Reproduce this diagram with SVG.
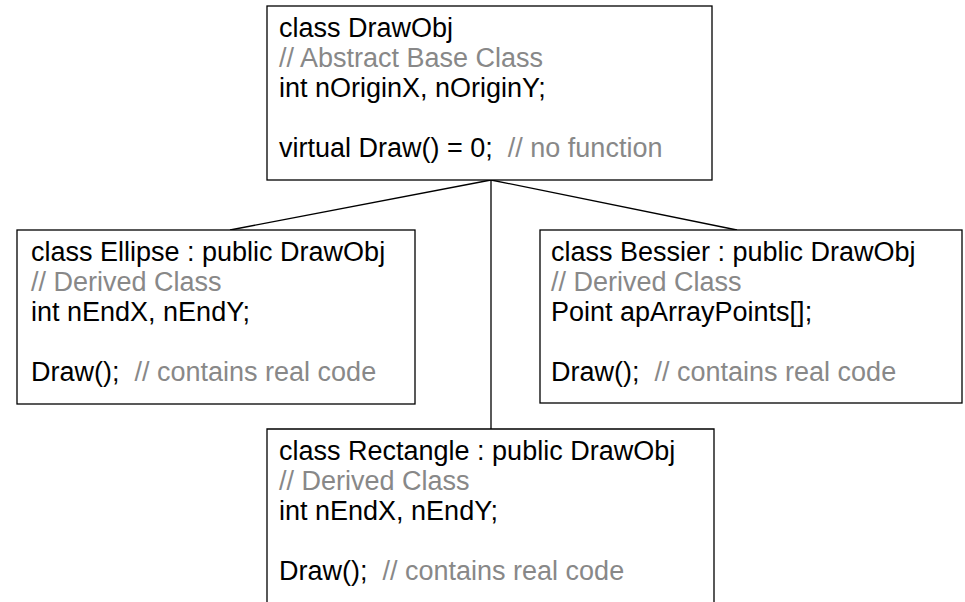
<svg xmlns="http://www.w3.org/2000/svg" width="965" height="602" viewBox="0 0 965 602">
<style>
.box{fill:#fff;stroke:#000;stroke-width:1.3}
.t{font-family:"Liberation Sans",Arial,sans-serif;font-size:27px;fill:#000;white-space:pre}
.c{fill:#888}
.ln{stroke:#000;stroke-width:1.3;fill:none}
</style>
<rect width="965" height="602" fill="#fff"/>
<g id="connectors">
<line class="ln" x1="491" y1="180" x2="230" y2="230"/>
<line class="ln" x1="491" y1="180" x2="737" y2="230"/>
<line class="ln" x1="491" y1="180" x2="491" y2="429"/>
</g>
<g id="drawobj">
<rect class="box" x="267" y="6" width="445" height="174"/>
<text class="t" x="279" y="37">class DrawObj</text>
<text class="t c" x="279" y="67">// Abstract Base Class</text>
<text class="t" x="279" y="97">int nOriginX, nOriginY;</text>
<text class="t" x="279" y="157">virtual Draw() = 0;  <tspan class="c">// no function</tspan></text>
</g>
<g id="ellipse">
<rect class="box" x="17" y="230" width="398" height="174"/>
<text class="t" x="31" y="261">class Ellipse : public DrawObj</text>
<text class="t c" x="31" y="291">// Derived Class</text>
<text class="t" x="31" y="321">int nEndX, nEndY;</text>
<text class="t" x="31" y="381">Draw();  <tspan class="c">// contains real code</tspan></text>
</g>
<g id="bessier">
<rect class="box" x="540" y="230" width="422" height="173"/>
<text class="t" x="551" y="261">class Bessier : public DrawObj</text>
<text class="t c" x="551" y="291">// Derived Class</text>
<text class="t" x="551" y="321">Point apArrayPoints[];</text>
<text class="t" x="551" y="381">Draw();  <tspan class="c">// contains real code</tspan></text>
</g>
<g id="rectangle">
<path class="box" d="M267,610 V429 H714 V610"/>
<text class="t" x="279" y="460">class Rectangle : public DrawObj</text>
<text class="t c" x="279" y="490">// Derived Class</text>
<text class="t" x="279" y="520">int nEndX, nEndY;</text>
<text class="t" x="279" y="580">Draw();  <tspan class="c">// contains real code</tspan></text>
</g>
</svg>
